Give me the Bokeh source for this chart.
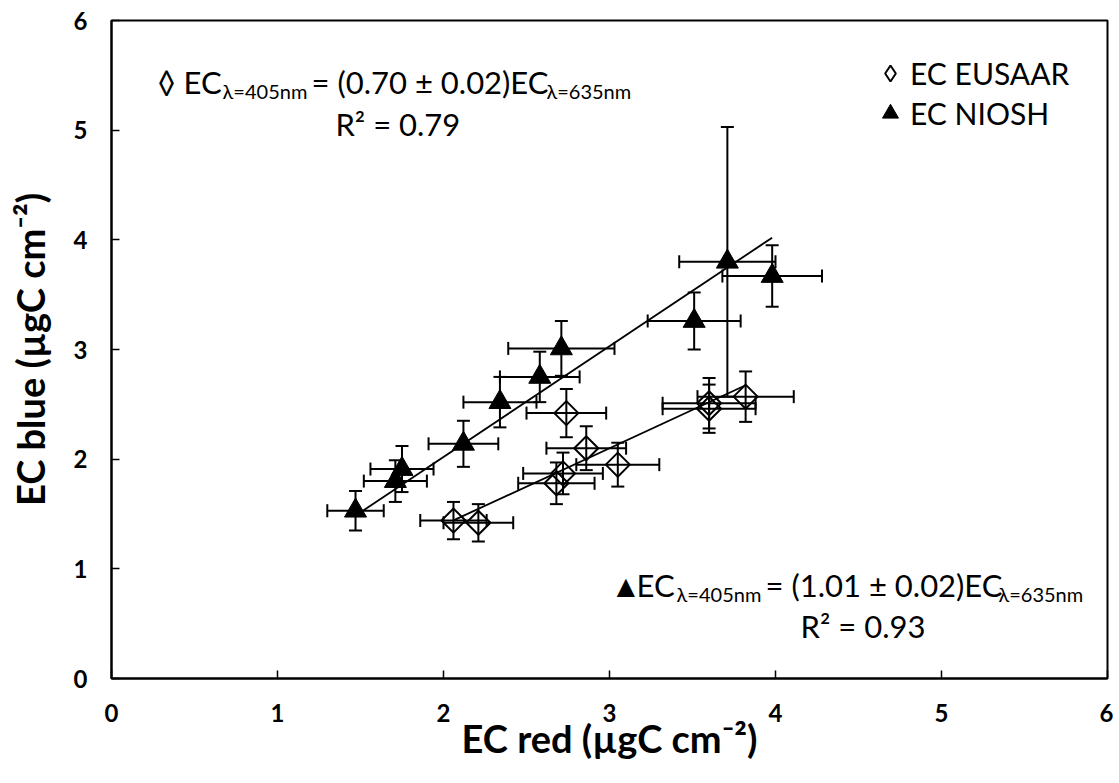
import numpy as np
from bokeh.plotting import figure
from bokeh.models import (ColumnDataSource, Whisker, TeeHead, Label, Legend,
                          LegendItem, Range1d, FixedTicker)
from bokeh.embed import file_html
from bokeh.resources import INLINE

# ---- data ----
# EC EUSAAR (open diamonds)
eus_red = [2.06, 2.21, 2.68, 2.72, 2.86, 3.05, 2.74, 3.60, 3.60, 3.82]
eus_blue = [1.44, 1.42, 1.78, 1.87, 2.10, 1.95, 2.42, 2.51, 2.46, 2.57]
eus_red_err = [0.20, 0.21, 0.23, 0.24, 0.24, 0.25, 0.24, 0.28, 0.28, 0.29]
eus_blue_err = [0.17, 0.17, 0.19, 0.19, 0.20, 0.20, 0.22, 0.23, 0.22, 0.23]

# EC NIOSH (filled triangles)
nio_red = [1.47, 1.71, 1.75, 2.12, 2.34, 2.58, 2.71, 3.51, 3.71, 3.98]
nio_blue = [1.53, 1.80, 1.91, 2.14, 2.52, 2.75, 3.01, 3.26, 3.80, 3.67]
nio_red_err = [0.17, 0.19, 0.19, 0.21, 0.22, 0.24, 0.32, 0.28, 0.29, 0.30]
nio_blue_err = [0.18, 0.19, 0.21, 0.21, 0.23, 0.23, 0.25, 0.26, 1.23, 0.28]

# fitted slopes (through origin)
eus_slope = 0.70
nio_slope = 1.01

ticks = [0, 1, 2, 3, 4, 5, 6]

FONT = "Lato"


def make_source(xs, ys, xe, ye):
    xs = np.array(xs); ys = np.array(ys); xe = np.array(xe); ye = np.array(ye)
    return ColumnDataSource(dict(x=xs, y=ys, xl=xs - xe, xu=xs + xe,
                                 yl=ys - ye, yu=ys + ye))


src_eus = make_source(eus_red, eus_blue, eus_red_err, eus_blue_err)
src_nio = make_source(nio_red, nio_blue, nio_red_err, nio_blue_err)

p = figure(frame_width=996, frame_height=658,
           x_range=Range1d(0, 6), y_range=Range1d(0, 6),
           output_backend="svg", toolbar_location=None,
           min_border_left=111, min_border_right=6,
           min_border_top=20, min_border_bottom=100)

p.xgrid.visible = False
p.ygrid.visible = False
p.outline_line_color = "black"
p.outline_line_width = 2
p.outline_line_alpha = 1.0
p.background_fill_color = "white"
p.border_fill_color = "white"

for ax in (p.xaxis[0], p.yaxis[0]):
    ax.ticker = FixedTicker(ticks=ticks)
    ax.axis_line_width = 2
    ax.axis_line_color = "black"
    ax.major_tick_in = 8
    ax.major_tick_out = 0
    ax.major_tick_line_width = 1.5
    ax.minor_tick_in = 0
    ax.minor_tick_out = 0
    ax.major_label_text_font = FONT
    ax.major_label_text_font_style = "bold"
    ax.major_label_text_font_size = "24px"
    ax.major_label_text_color = "black"
    ax.axis_label_text_font = FONT
    ax.axis_label_text_font_style = "bold"
    ax.axis_label_text_font_size = "38px"
    ax.axis_label_text_color = "black"

p.xaxis.axis_label = "EC red (µgC cm⁻²)"
p.yaxis.axis_label = "EC blue (µgC cm⁻²)"
p.xaxis.major_label_standoff = 25
p.yaxis.major_label_standoff = 24
p.xaxis.axis_label_standoff = -10
p.yaxis.axis_label_standoff = 18

# error bars
for src in (src_eus, src_nio):
    p.add_layout(Whisker(source=src, base="y", lower="xl", upper="xu",
                         dimension="width", line_width=2, line_color="black",
                         upper_head=TeeHead(size=13, line_width=2),
                         lower_head=TeeHead(size=13, line_width=2)))
    p.add_layout(Whisker(source=src, base="x", lower="yl", upper="yu",
                         dimension="height", line_width=2, line_color="black",
                         upper_head=TeeHead(size=13, line_width=2),
                         lower_head=TeeHead(size=13, line_width=2)))

# trend lines
ex = [min(eus_red), max(eus_red)]
nx = [min(nio_red), max(nio_red)]
p.line(ex, [eus_slope * v for v in ex], line_color="black", line_width=1.8)
p.line(nx, [nio_slope * v for v in nx], line_color="black", line_width=1.8)

r_eus = p.scatter("x", "y", source=src_eus, marker="square", angle=np.pi / 4,
                  size=17, fill_color=None, line_color="black", line_width=2)
r_nio = p.scatter("x", "y", source=src_nio, marker="triangle", size=22,
                  fill_color="black", line_color="black", line_width=1)
# hidden twin of the diamond series, used only for the legend key
r_eus_key = p.scatter("x", "y", source=src_eus, marker="diamond", size=24,
                      fill_color=None, line_color="black", line_width=2,
                      visible=False)

legend = Legend(items=[LegendItem(label="EC EUSAAR", renderers=[r_eus_key]),
                       LegendItem(label="EC NIOSH", renderers=[r_nio])],
                location="top_right", margin=33, padding=0, spacing=0,
                glyph_width=40, glyph_height=40, label_standoff=0,
                label_width=164, label_text_font=FONT,
                label_text_font_size="30px", label_text_color="black",
                background_fill_alpha=0, border_line_color=None,
                inactive_fill_alpha=0)
p.add_layout(legend)


def lab(x, y, text, size):
    p.add_layout(Label(x=x, y=y, text=text, text_font=FONT,
                       text_font_size=size, text_color="black",
                       text_align="left", text_baseline="alphabetic"))


# top-left equation (EUSAAR)
lab(0.277, 5.442, "◊", "31px")
lab(0.434, 5.442, "EC", "31px")
lab(0.669, 5.36, "λ=405nm", "20px")
lab(1.205, 5.442, "= (0.70 ± 0.02)EC", "31px")
lab(2.620, 5.36, "λ=635nm", "20px")
lab(1.349, 5.06, "R² = 0.79", "31px")

# bottom-right equation (NIOSH)
lab(3.006, 0.85, "▲", "31px")
lab(3.163, 0.85, "EC", "31px")
lab(3.404, 0.768, "λ=405nm", "20px")
lab(3.940, 0.85, "= (1.01 ± 0.02)EC", "31px")
lab(5.343, 0.768, "λ=635nm", "20px")
lab(4.151, 0.475, "R² = 0.93", "31px")

open("out.html", "w").write(file_html(p, INLINE))
